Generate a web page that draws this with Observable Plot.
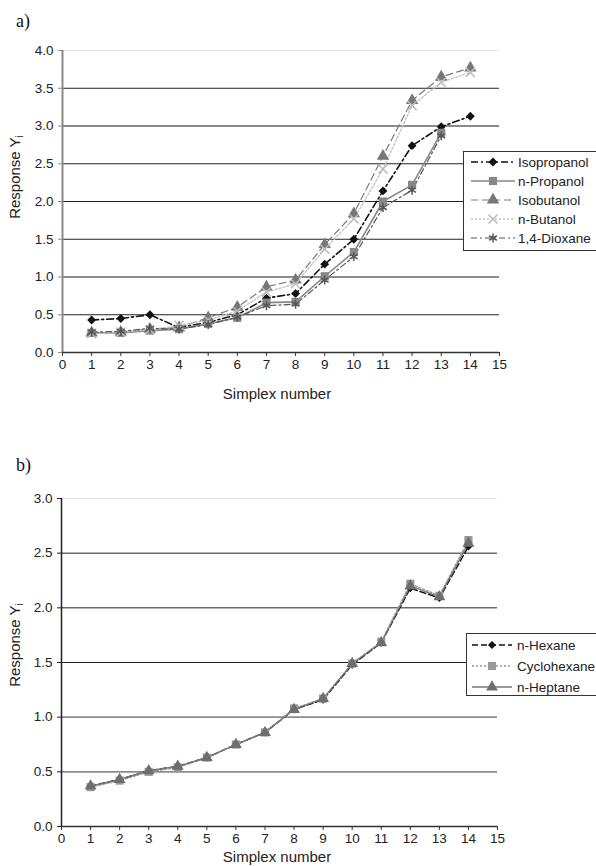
<!DOCTYPE html>
<html><head><meta charset="utf-8">
<script src="https://cdn.jsdelivr.net/npm/d3@7"></script>
<script src="https://cdn.jsdelivr.net/npm/@observablehq/plot@0.6"></script>
<style>
body{margin:0;background:#fff;}
#root{position:relative;width:596px;height:866px;overflow:hidden;font-family:"Liberation Sans",Arial,sans-serif;color:#222;}
.abs{position:absolute;white-space:nowrap;}
</style></head><body><div id="root"></div>
<script>
// ---------- data ----------
const simplex = [1,2,3,4,5,6,7,8,9,10,11,12,13,14];
const xTicks = [0,1,2,3,4,5,6,7,8,9,10,11,12,13,14,15];
const yTicksA = [0,0.5,1,1.5,2,2.5,3,3.5,4];
const yTicksB = [0,0.5,1,1.5,2,2.5,3];

const isopropanol = [0.43,0.45,0.50,0.33,0.40,0.50,0.72,0.78,1.17,1.50,2.14,2.74,2.99,3.13];
const nPropanol   = [0.26,0.26,0.29,0.31,0.38,0.46,0.66,0.67,1.01,1.33,2.00,2.22,2.91];
const isobutanol  = [0.26,0.27,0.31,0.33,0.46,0.60,0.87,0.96,1.43,1.84,2.60,3.34,3.65,3.77];
const nButanol    = [0.25,0.27,0.30,0.36,0.43,0.55,0.80,0.91,1.37,1.77,2.43,3.27,3.58,3.71];
const dioxane     = [0.27,0.28,0.32,0.31,0.37,0.47,0.62,0.64,0.96,1.27,1.92,2.15,2.87];

const nHexane     = [0.37,0.43,0.51,0.55,0.63,0.75,0.86,1.07,1.16,1.48,1.68,2.18,2.09,2.56];
const cyclohexane = [0.36,0.42,0.50,0.54,0.63,0.75,0.86,1.08,1.17,1.49,1.69,2.22,2.11,2.62];
const nHeptane    = [0.37,0.43,0.51,0.55,0.63,0.75,0.86,1.07,1.17,1.49,1.68,2.20,2.10,2.59];

const namesA = ["Isopropanol","n-Propanol","Isobutanol","n-Butanol","1,4-Dioxane"];
const valuesA = [isopropanol,nPropanol,isobutanol,nButanol,dioxane];
const namesB = ["n-Hexane","Cyclohexane","n-Heptane"];
const valuesB = [nHexane,cyclohexane,nHeptane];

// ---------- styles ----------
const stylesA = {
  "Isopropanol": {line:"#111", width:1.6, dash:"7,3,2,3", symbol:d3.symbolDiamond2, r:4.0, fill:"#111", stroke:"none"},
  "n-Propanol":  {line:"#888", width:1.6, dash:null, symbol:d3.symbolSquare, r:4.6, fill:"#888", stroke:"none"},
  "Isobutanol":  {line:"#7a7a7a", width:1.2, dash:"7,4", symbol:d3.symbolTriangle, r:4.6, fill:"#777", stroke:"none"},
  "n-Butanol":   {line:"#c4c4c4", width:1.4, dash:"2,2", symbol:d3.symbolTimes, r:4.2, fill:"none", stroke:"#bbb"},
  "1,4-Dioxane": {line:"#555", width:1.2, dash:"6,3,2,3", symbol:d3.symbolAsterisk, r:4.2, fill:"none", stroke:"#555"}
};
const stylesB = {
  "n-Hexane":    {line:"#111", width:1.5, dash:"6,3", symbol:d3.symbolDiamond2, r:3.6, fill:"#111", stroke:"none"},
  "Cyclohexane": {line:"#999", width:1.4, dash:"2,2", symbol:d3.symbolSquare, r:4.6, fill:"#999", stroke:"none"},
  "n-Heptane":   {line:"#777", width:1.3, dash:null, symbol:d3.symbolTriangle, r:4.4, fill:"#6e6e6e", stroke:"none"}
};
// grid lines that print lighter/thicker in the original scan
const lightGridA = [1, 3];
const lightGridB = [0.5, 1];

const root = document.getElementById("root");

function rowsOf(names, values) {
  return names.flatMap((n, k) => values[k].map((v, i) => ({series: n, x: simplex[i], y: v})));
}

function seriesMarks(rows, names, styles) {
  const marks = [];
  for (const n of names) {
    const st = styles[n];
    const data = rows.filter(d => d.series === n);
    marks.push(Plot.line(data, {x:"x", y:"y", stroke:st.line, strokeWidth:st.width, strokeDasharray:st.dash || undefined}));
  }
  for (const n of names) {
    const st = styles[n];
    const data = rows.filter(d => d.series === n);
    marks.push(Plot.dot(data, {x:"x", y:"y", symbol:st.symbol, r:st.r, fill:st.fill, stroke:st.stroke, strokeWidth:1.5}));
  }
  return marks;
}

function makePlot({rows, names, styles, yTicks, yMax, lightGrid, height, mt, mb, ml, mr, yAxisColor, yAxisWidth}) {
  const grid = yTicks.filter(v => v > 0);
  const gridDark = grid.filter(v => v !== yMax && !lightGrid.includes(v));
  const gridLight = grid.filter(v => lightGrid.includes(v));
  return Plot.plot({
    width: 596, height,
    marginTop: mt, marginBottom: mb, marginLeft: ml, marginRight: mr,
    x: {domain:[0,15]},
    y: {domain:[0,yMax]},
    style: {fontFamily:"Liberation Sans, Arial, sans-serif", fontSize:"13.5px", color:"#222", background:"transparent", overflow:"visible"},
    marks: [
      Plot.ruleY([yMax], {stroke:"#e8e8e8", strokeWidth:1}),
      Plot.ruleY(gridDark, {stroke:"#222", strokeWidth:1}),
      Plot.ruleY(gridLight, {stroke:"#8c8c8c", strokeWidth:1.8}),
      Plot.axisX(xTicks, {tickSize:4, tickPadding:3, fontSize:13.5, label:null, stroke:"#333", tickFormat: d => String(d)}),
      Plot.axisY(yTicks, {tickSize:4, tickPadding:5, fontSize:13.5, label:null, stroke:yAxisColor, tickFormat: d => d.toFixed(1)}),
      ...seriesMarks(rows, names, styles),
      Plot.ruleX([0], {stroke:yAxisColor, strokeWidth:yAxisWidth}),
      Plot.ruleY([0], {stroke:"#333", strokeWidth:1.5})
    ]
  });
}

function place(el, top) {
  el.style.position = "absolute";
  el.style.left = "0px";
  el.style.top = top + "px";
  root.appendChild(el);
}

function addText(html, css) {
  const d = document.createElement("div");
  d.className = "abs";
  d.innerHTML = html;
  Object.assign(d.style, css);
  root.appendChild(d);
}

function addLegend(names, styles, {left, top, width, height, row0, rowStep, x0, x1, xm, xt}) {
  const svg = d3.create("svg").attr("width", width).attr("height", height)
    .style("position","absolute").style("left", left+"px").style("top", top+"px").style("overflow","visible");
  svg.append("rect").attr("x",0.5).attr("y",0.5).attr("width",width-1).attr("height",height-1)
    .attr("fill","#fff").attr("stroke","#333").attr("stroke-width",1);
  names.forEach((n, i) => {
    const st = styles[n];
    const y = row0 + i * rowStep;
    svg.append("line").attr("x1",x0).attr("x2",x1).attr("y1",y).attr("y2",y)
      .attr("stroke", st.line).attr("stroke-width", st.width).attr("stroke-dasharray", st.dash || null);
    svg.append("path").attr("transform",`translate(${xm},${y})`)
      .attr("d", d3.symbol().type(st.symbol).size(Math.PI * st.r * st.r)())
      .attr("fill", st.fill).attr("stroke", st.stroke).attr("stroke-width", 1.5);
    svg.append("text").attr("x", xt).attr("y", y).attr("dy","0.36em")
      .attr("font-family","Liberation Sans, Arial, sans-serif").attr("font-size",13.5).attr("fill","#222").text(n);
  });
  root.appendChild(svg.node());
}

// ---------- panel a ----------
place(makePlot({rows: rowsOf(namesA, valuesA), names: namesA, styles: stylesA, yTicks: yTicksA, yMax: 4, lightGrid: lightGridA,
  height: 410, mt: 50, mb: 58, ml: 62, mr: 97, yAxisColor:"#8a8a8a", yAxisWidth:2}), 0);

// ---------- panel b ----------
place(makePlot({rows: rowsOf(namesB, valuesB), names: namesB, styles: stylesB, yTicks: yTicksB, yMax: 3, lightGrid: lightGridB,
  height: 426, mt: 58, mb: 40, ml: 61, mr: 99, yAxisColor:"#222", yAxisWidth:1.5}), 440);

// ---------- labels ----------
addText("a)", {left:"16px", top:"11px", fontFamily:"Liberation Serif, serif", fontSize:"18px", color:"#111"});
addText("b)", {left:"16px", top:"455px", fontFamily:"Liberation Serif, serif", fontSize:"18px", color:"#111"});
const ylab = 'Response Y<sub style="font-size:10px;vertical-align:-3px;">i</sub>';
addText(ylab, {left:"17px", top:"177px", fontSize:"15px", transform:"translate(-50%,-50%) rotate(-90deg)", lineHeight:"17px"});
addText(ylab, {left:"17px", top:"645px", fontSize:"15px", transform:"translate(-50%,-50%) rotate(-90deg)", lineHeight:"17px"});
addText("Simplex number", {left:"277px", top:"393px", fontSize:"15px", lineHeight:"17px", transform:"translate(-50%,-50%)"});
addText("Simplex number", {left:"277px", top:"856px", fontSize:"15px", lineHeight:"17px", transform:"translate(-50%,-50%)"});

// ---------- legends ----------
addLegend(namesA, stylesA, {left:463, top:151, width:150, height:100, row0:11, rowStep:19, x0:8, x1:52, xm:30, xt:55});
addLegend(namesB, stylesB, {left:466, top:633, width:150, height:63, row0:12, rowStep:21, x0:6, x1:46, xm:26, xt:51});
</script></body></html>
